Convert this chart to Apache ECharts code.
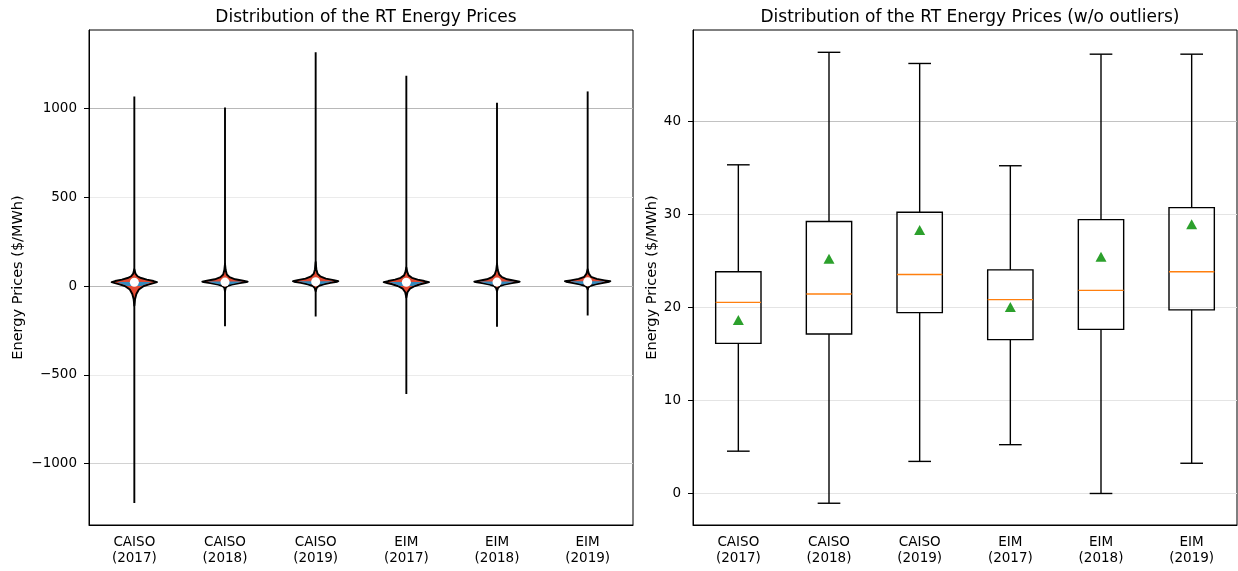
<!DOCTYPE html>
<html>
<head>
<meta charset="utf-8">
<script src="https://cdn.jsdelivr.net/npm/echarts@6/dist/echarts.min.js"></script>
<style>
  html, body { margin: 0; padding: 0; background: #ffffff; }
  #chart { width: 1238px; height: 571px; }
</style>
</head>
<body>
<div id="chart"></div>
<script>
// Markets / years shown on both panels
const categories = ['CAISO\n(2017)', 'CAISO\n(2018)', 'CAISO\n(2019)', 'EIM\n(2017)', 'EIM\n(2018)', 'EIM\n(2019)'];

// Full price range per market-year ($/MWh)
const priceMax = [1068, 1005, 1316, 1184, 1032, 1096];
const priceMin = [-1222, -226, -172, -608, -230, -166];
const priceMedian = [21, 22, 24, 21, 22, 24];

// Kernel density body profiles: [price, relative half-width]
const profileCaiso2017 = [[-110, 0], [-75, 0.03], [-45, 0.09], [-20, 0.2], [0, 0.42], [8, 0.62], [16, 0.85], [22, 1], [28, 0.85], [36, 0.55], [45, 0.3], [55, 0.14], [70, 0.05], [95, 0]];
const profileCaiso2018 = [[-30, 0], [-10, 0.03], [0, 0.1], [8, 0.3], [16, 0.65], [22, 0.95], [25, 1], [30, 0.8], [38, 0.45], [50, 0.2], [65, 0.08], [90, 0.03], [125, 0]];
const profileCaiso2019 = [[-30, 0], [-12, 0.04], [0, 0.12], [10, 0.35], [18, 0.65], [24, 0.95], [27, 1], [33, 0.8], [42, 0.45], [55, 0.2], [70, 0.08], [95, 0.03], [135, 0]];
const profileEim2017 = [[-65, 0], [-35, 0.05], [-15, 0.16], [0, 0.38], [10, 0.62], [17, 0.85], [22, 1], [28, 0.8], [36, 0.5], [46, 0.25], [60, 0.1], [80, 0.04], [105, 0]];
const profileEim2018 = [[-30, 0], [-12, 0.04], [0, 0.12], [8, 0.32], [16, 0.66], [22, 0.95], [25, 1], [30, 0.78], [38, 0.45], [50, 0.22], [65, 0.1], [90, 0.035], [125, 0]];
const profileEim2019 = [[-20, 0], [-8, 0.03], [0, 0.1], [10, 0.35], [18, 0.7], [24, 0.95], [27, 1], [32, 0.75], [40, 0.4], [52, 0.15], [70, 0.05], [95, 0]];
const violinProfiles = [profileCaiso2017, profileCaiso2018, profileCaiso2019, profileEim2017, profileEim2018, profileEim2019];

// Price band of the inner (core) shading per violin
const coreLow = [0, 8, 10, 0, 8, 10];
const coreHigh = [22, 25, 27, 22, 25, 27];

// Box statistics without outliers ($/MWh)
const whiskerLow = [4.5, -1.1, 3.4, 5.2, -0.05, 3.2];
const quartile1 = [16.1, 17.1, 19.4, 16.5, 17.6, 19.7];
const medians = [20.5, 21.4, 23.5, 20.8, 21.8, 23.8];
const quartile3 = [23.8, 29.2, 30.2, 24.0, 29.4, 30.7];
const whiskerHigh = [35.3, 47.4, 46.2, 35.2, 47.2, 47.2];
const means = [18.6, 25.2, 28.3, 20.0, 25.4, 28.9];

// Tick values
const leftTicks = [-1000, -500, 0, 500, 1000];
const rightTicks = [0, 10, 20, 30, 40];

const FONT = 'DejaVu Sans';
const minusFmt = v => (v < 0 ? '\u2212' + Math.abs(v) : String(v));

function violinItem(params, api) {
  const i = params.dataIndex;
  const half = api.size([1, 0])[0] * 0.25;
  const prof = violinProfiles[i];
  const cx = api.coord([i, 0])[0];
  const right = prof.map(p => [cx + p[1] * half, api.coord([i, p[0]])[1]]);
  const left = prof.slice().reverse().map(p => [cx - p[1] * half, api.coord([i, p[0]])[1]]);
  const core = prof.filter(p => p[0] >= coreLow[i] && p[0] <= coreHigh[i]);
  const coreR = core.map(p => [cx + p[1] * half * 0.75, api.coord([i, p[0]])[1]]);
  const coreL = core.slice().reverse().map(p => [cx - p[1] * half * 0.75, api.coord([i, p[0]])[1]]);
  const top = api.coord([i, priceMax[i]]);
  const bot = api.coord([i, priceMin[i]]);
  return {
    type: 'group',
    children: [
      { type: 'line', shape: { x1: top[0], y1: top[1], x2: bot[0], y2: bot[1] },
        style: { stroke: '#000', lineWidth: 1.9 } },
      { type: 'polygon', shape: { points: right.concat(left) },
        style: { fill: '#E24A33', stroke: '#000', lineWidth: 1.9, lineJoin: 'round' } },
      { type: 'polygon', shape: { points: coreR.concat(coreL) },
        style: { fill: '#348ABD', stroke: null } }
    ]
  };
}

function boxItem(params, api) {
  const i = params.dataIndex;
  const band = api.size([1, 0])[0];
  const bh = band * 0.25, ch = band * 0.125;
  const cx = api.coord([i, 0])[0];
  const y = v => api.coord([i, v])[1];
  const ln = (x1, y1, x2, y2, c) => ({ type: 'line', shape: { x1, y1, x2, y2 },
    style: { stroke: c || '#000', lineWidth: 1.4 } });
  return {
    type: 'group',
    children: [
      ln(cx, y(quartile3[i]), cx, y(whiskerHigh[i])),
      ln(cx, y(quartile1[i]), cx, y(whiskerLow[i])),
      ln(cx - ch, y(whiskerHigh[i]), cx + ch, y(whiskerHigh[i])),
      ln(cx - ch, y(whiskerLow[i]), cx + ch, y(whiskerLow[i])),
      { type: 'rect', shape: { x: cx - bh, y: y(quartile3[i]), width: 2 * bh, height: y(quartile1[i]) - y(quartile3[i]) },
        style: { fill: 'none', stroke: '#000', lineWidth: 1.4 } },
      ln(cx - bh, y(medians[i]), cx + bh, y(medians[i]), '#FF7F0E')
    ]
  };
}

const tickText = { color: '#000', fontFamily: FONT, fontSize: 13.5 };
const nameText = { color: '#000', fontFamily: FONT, fontSize: 14.5 };

const chart = echarts.init(document.getElementById('chart'), null, { renderer: 'canvas' });
chart.setOption({
  animation: false,
  backgroundColor: '#ffffff',
  textStyle: { fontFamily: FONT },
  title: [
    { text: 'Distribution of the RT Energy Prices', left: 361, top: 4, textAlign: 'center',
      textStyle: { fontFamily: FONT, fontSize: 17, fontWeight: 'normal', color: '#000' } },
    { text: 'Distribution of the RT Energy Prices (w/o outliers)', left: 965, top: 4, textAlign: 'center',
      textStyle: { fontFamily: FONT, fontSize: 17, fontWeight: 'normal', color: '#000' } }
  ],
  grid: [
    { left: 89, top: 30, width: 544, height: 495, show: true, borderColor: '#000', borderWidth: 1, backgroundColor: 'transparent' },
    { left: 693, top: 30, width: 544, height: 495, show: true, borderColor: '#000', borderWidth: 1, backgroundColor: 'transparent' }
  ],
  xAxis: [0, 1].map(g => ({
    type: 'category', gridIndex: g, data: categories, boundaryGap: true,
    axisLine: { onZero: false, lineStyle: { color: '#000', width: 1 } },
    axisTick: { alignWithLabel: true, length: 5, lineStyle: { color: '#000' } },
    axisLabel: Object.assign({ margin: 9, lineHeight: 16, interval: 0 }, tickText),
    splitLine: { show: false }
  })),
  yAxis: [
    { type: 'value', gridIndex: 0, min: -1346, max: 1442,
      name: 'Energy Prices ($/MWh)', nameLocation: 'middle', nameGap: 63,
      nameTextStyle: nameText,
      axisLine: { show: true, onZero: false, lineStyle: { color: '#000' } },
      axisTick: { show: true, length: 5, customValues: leftTicks, lineStyle: { color: '#000' } },
      axisLabel: Object.assign({ customValues: leftTicks, formatter: minusFmt, margin: 12 }, tickText),
      splitLine: { show: true, lineStyle: { color: ['#d2d2d2', '#ebebeb', '#b8b8b8', '#ebebeb', '#b8b8b8'], width: 1 } } },
    { type: 'value', gridIndex: 1, min: -3.44, max: 49.8,
      name: 'Energy Prices ($/MWh)', nameLocation: 'middle', nameGap: 33,
      nameTextStyle: nameText,
      axisLine: { show: true, onZero: false, lineStyle: { color: '#000' } },
      axisTick: { show: true, length: 5, customValues: rightTicks, lineStyle: { color: '#000' } },
      axisLabel: Object.assign({ customValues: rightTicks, formatter: minusFmt, margin: 12 }, tickText),
      splitLine: { show: true, lineStyle: { color: ['#e4e4e4', '#e4e4e4', '#e4e4e4', '#e4e4e4', '#c2c2c2'], width: 1 } } }
  ],
  series: [
    { type: 'custom', xAxisIndex: 0, yAxisIndex: 0, renderItem: violinItem,
      data: priceMedian.map((m, i) => [i, m]), encode: { x: 0, y: 1 }, z: 2 },
    { type: 'scatter', xAxisIndex: 0, yAxisIndex: 0, symbol: 'circle', symbolSize: 9,
      itemStyle: { color: '#ffffff', borderWidth: 0, opacity: 1 },
      data: priceMedian.map((m, i) => [i, m]), z: 3 },
    { type: 'custom', xAxisIndex: 1, yAxisIndex: 1, renderItem: boxItem,
      data: medians.map((m, i) => [i, m]), encode: { x: 0, y: 1 }, z: 2 },
    { type: 'scatter', xAxisIndex: 1, yAxisIndex: 1, symbol: 'triangle', symbolSize: [11, 10],
      itemStyle: { color: '#2CA02C', opacity: 1 },
      data: means.map((m, i) => [i, m]), z: 3 }
  ]
});
</script>
</body>
</html>
